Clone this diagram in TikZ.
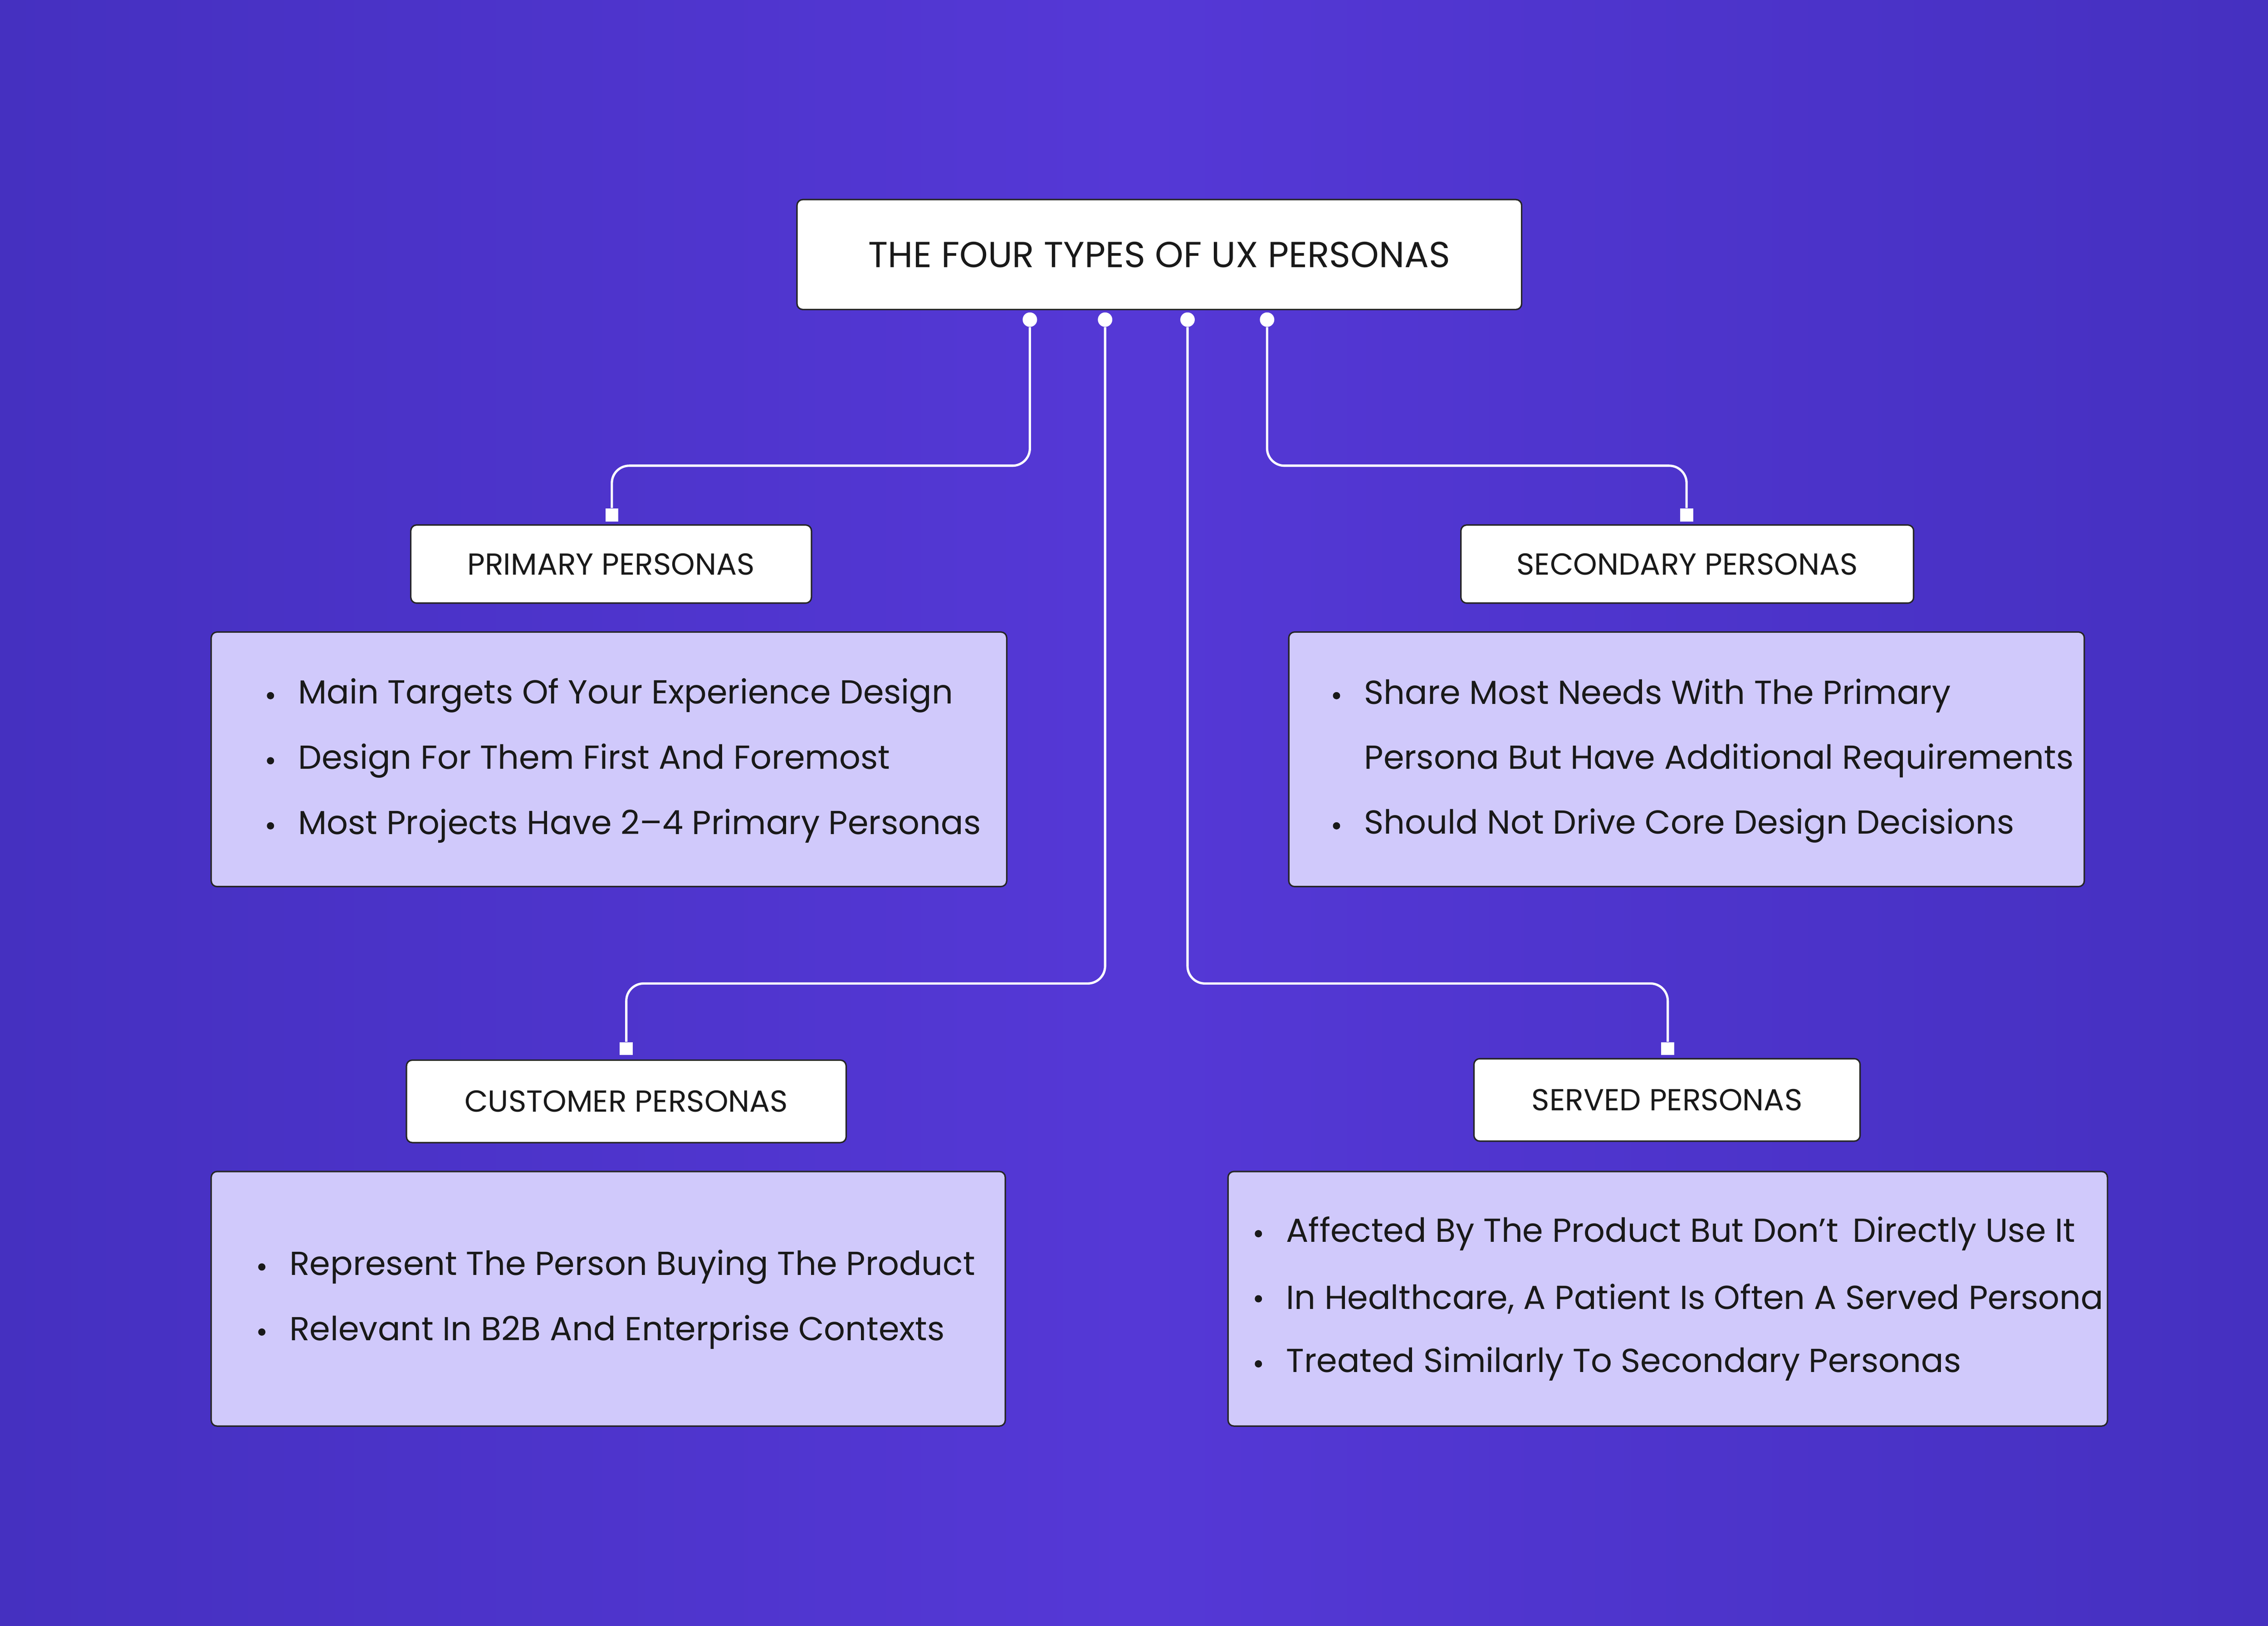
\documentclass[tikz,border=0pt]{standalone}
\usepackage{fontspec}
\setmainfont{Poppins}
\begin{document}
\begin{tikzpicture}[x=1pt,y=-1pt,
  lbl/.style={draw=black!85,fill=white,line width=1pt,rounded corners=4pt,inner sep=0pt,font=\fontsize{21}{24}\selectfont\color{black!90}},
  card/.style={draw=black!85,fill=lav,line width=1pt,rounded corners=4pt},
  txt/.style={anchor=west,inner sep=0pt,font=\fontsize{23}{26}\selectfont\color{black!90}},
  bul/.style={circle,fill=black!90,inner sep=0pt,minimum size=5pt},
  wire/.style={draw=white,line width=1.6pt,rounded corners=12pt},
  dot/.style={circle,fill=white,inner sep=0pt,minimum size=10pt},
  sq/.style={fill=white,inner sep=0pt,minimum size=9pt}]
\definecolor{lav}{HTML}{D0C9FB}
\definecolor{bgA}{HTML}{4530C0}
\definecolor{bgB}{HTML}{5538D6}
\useasboundingbox (0,0) rectangle (1568,1124);
\shade[left color=bgA,right color=bgA,middle color=bgB] (0,0) rectangle (1568,1124);
% title
\node[lbl,minimum width=501pt,minimum height=76pt,font=\fontsize{25}{28}\selectfont\color{black!90}] (title) at (801.5,176) {THE FOUR TYPES OF UX PERSONAS};
\node[dot] (d1) at (712,221) {};
\node[dot] (d2) at (764,221) {};
\node[dot] (d3) at (821,221) {};
\node[dot] (d4) at (876,221) {};
% labels
\node[lbl,minimum width=277pt,minimum height=54pt] (prim) at (422.5,390) {PRIMARY PERSONAS};
\node[lbl,minimum width=313pt,minimum height=54pt] (sec) at (1166.5,390) {SECONDARY PERSONAS};
\node[lbl,minimum width=304pt,minimum height=57pt] (cust) at (433,761.5) {CUSTOMER PERSONAS};
\node[lbl,minimum width=267pt,minimum height=57pt] (serv) at (1152.5,760.5) {SERVED PERSONAS};
\node[sq] (s1) at (423,356) {};
\node[sq] (s2) at (1166,356) {};
\node[sq] (s3) at (433,725) {};
\node[sq] (s4) at (1153,725) {};
% wires
\draw[wire] (d1) -- (712,322) -- (423,322) -- (s1);
\draw[wire] (d4) -- (876,322) -- (1166,322) -- (s2);
\draw[wire] (d2) -- (764,680) -- (433,680) -- (s3);
\draw[wire] (d3) -- (821,680) -- (1153,680) -- (s4);
% cards
\draw[card] (146,437) rectangle (696,613);
\draw[card] (891,437) rectangle (1441,613);
\draw[card] (146,810) rectangle (695,986);
\draw[card] (849,810) rectangle (1457,986);
% primary text
\node[bul] at (187,481) {}; \node[txt] (p1) at (206,481) {Main Targets Of Your Experience Design};
\node[bul] at (187,526) {}; \node[txt] (p2) at (206,526) {Design For Them First And Foremost};
\node[bul] at (187,571) {}; \node[txt] (p3) at (206,571) {Most Projects Have 2–4 Primary Personas};
% secondary
\node[bul] at (924,481) {}; \node[txt] (q1) at (943,481) {Share Most Needs With The Primary};
\node[txt] (q2) at (943,526) {Persona But Have Additional Requirements};
\node[bul] at (924,571) {}; \node[txt] (q3) at (943,571) {Should Not Drive Core Design Decisions};
% customer
\node[bul] at (181,876) {}; \node[txt] (c1) at (200,876) {Represent The Person Buying The Product};
\node[bul] at (181,921) {}; \node[txt] (c2) at (200,921) {Relevant In B2B And Enterprise Contexts};
% served
\node[bul] at (870,853) {}; \node[txt] (v1) at (889,853) {Affected By The Product But Don’t\, Directly Use It};
\node[bul] at (870,898) {}; \node[txt] (v2) at (889,898) {In Healthcare, A Patient Is Often A Served Persona};
\node[bul] at (870,943) {}; \node[txt] (v3) at (889,943) {Treated Similarly To Secondary Personas};
\end{tikzpicture}
\end{document}
